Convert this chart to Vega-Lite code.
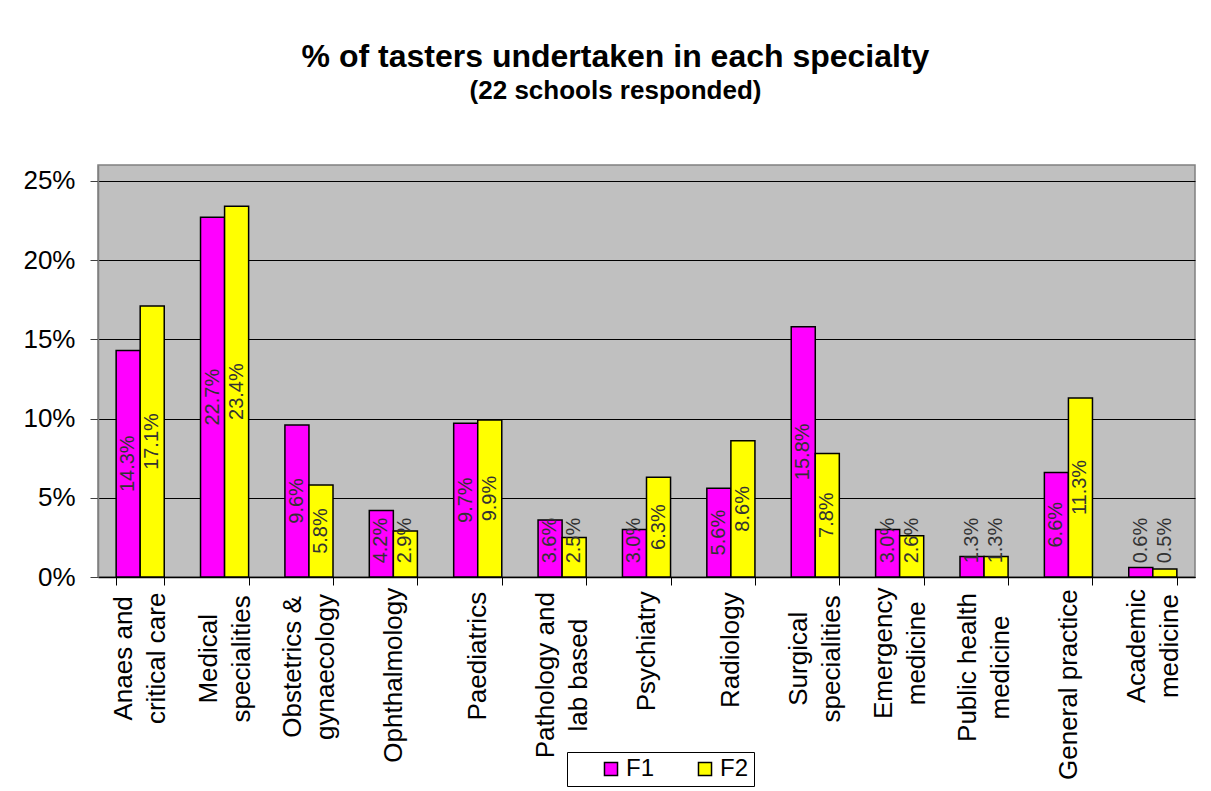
{
  "$schema": "https://vega.github.io/schema/vega-lite/v6.json",
  "width": 1097,
  "height": 412,
  "autosize": "none",
  "padding": {"left": 98, "top": 165, "right": 16, "bottom": 214},
  "background": "white",
  "config": {
    "font": "Liberation Sans",
    "view": {"fill": "#C0C0C0", "stroke": "#808080", "strokeWidth": 1.5}
  },
  "title": {
    "text": "% of tasters undertaken in each specialty",
    "subtitle": "(22 schools responded)",
    "font": "Liberation Sans",
    "fontSize": 32,
    "fontWeight": "bold",
    "color": "black",
    "subtitleFont": "Liberation Sans",
    "subtitleFontSize": 26,
    "subtitleFontWeight": "bold",
    "subtitleColor": "black",
    "subtitlePadding": 4,
    "anchor": "middle",
    "dx": -31,
    "offset": 60
  },
  "data": {
    "values": [
      {"specialty": "Anaes and|critical care", "series": "F1", "value": 0.143},
      {"specialty": "Anaes and|critical care", "series": "F2", "value": 0.171},
      {"specialty": "Medical|specialities", "series": "F1", "value": 0.227},
      {"specialty": "Medical|specialities", "series": "F2", "value": 0.234},
      {"specialty": "Obstetrics &|gynaecology", "series": "F1", "value": 0.096},
      {"specialty": "Obstetrics &|gynaecology", "series": "F2", "value": 0.058},
      {"specialty": "Ophthalmology", "series": "F1", "value": 0.042},
      {"specialty": "Ophthalmology", "series": "F2", "value": 0.029},
      {"specialty": "Paediatrics", "series": "F1", "value": 0.097},
      {"specialty": "Paediatrics", "series": "F2", "value": 0.099},
      {"specialty": "Pathology and|lab based", "series": "F1", "value": 0.036},
      {"specialty": "Pathology and|lab based", "series": "F2", "value": 0.025},
      {"specialty": "Psychiatry", "series": "F1", "value": 0.030},
      {"specialty": "Psychiatry", "series": "F2", "value": 0.063},
      {"specialty": "Radiology", "series": "F1", "value": 0.056},
      {"specialty": "Radiology", "series": "F2", "value": 0.086},
      {"specialty": "Surgical|specialities", "series": "F1", "value": 0.158},
      {"specialty": "Surgical|specialities", "series": "F2", "value": 0.078},
      {"specialty": "Emergency|medicine", "series": "F1", "value": 0.030},
      {"specialty": "Emergency|medicine", "series": "F2", "value": 0.026},
      {"specialty": "Public health|medicine", "series": "F1", "value": 0.013},
      {"specialty": "Public health|medicine", "series": "F2", "value": 0.013},
      {"specialty": "General practice", "series": "F1", "value": 0.066},
      {"specialty": "General practice", "series": "F2", "value": 0.113},
      {"specialty": "Academic|medicine", "series": "F1", "value": 0.006},
      {"specialty": "Academic|medicine", "series": "F2", "value": 0.005}
    ]
  },
  "encoding": {
    "x": {
      "field": "specialty",
      "type": "nominal",
      "sort": null,
      "title": null,
      "scale": {"paddingInner": 0.43, "paddingOuter": 0.215},
      "axis": {
        "labelExpr": "split(datum.label, '|')",
        "labelAngle": 270,
        "labelAlign": "center",
        "labelBaseline": "middle",
        "labelFontSize": 26,
        "labelLineHeight": 33,
        "labelColor": "black",
        "labelPadding": 8,
        "labelLimit": 400,
        "labelOverlap": false,
        "labelBound": false,
        "tickBand": "extent",
        "tickSize": 8,
        "tickColor": "black",
        "domainColor": "black",
        "domainWidth": 1.5,
        "grid": false,
        "encoding": {
          "labels": {
            "dx": {"value": {"expr": "-13*max(0.556*length(split(datum.label,'|')[0]) - 0.296*length(replace(split(datum.label,'|')[0], regexp('[^ijltfr ]','g'), '')) - 0.056*length(replace(split(datum.label,'|')[0], regexp('[^csykvxz]','g'), '')), 0.556*length(split(datum.label,'|')[1] || '') - 0.296*length(replace(split(datum.label,'|')[1] || '', regexp('[^ijltfr ]','g'), '')) - 0.056*length(replace(split(datum.label,'|')[1] || '', regexp('[^csykvxz]','g'), '')))"}},
            "dy": {"value": {"expr": "-16.5*(length(split(datum.label,'|')) - 1)"}}
          }
        }
      }
    },
    "xOffset": {"field": "series", "type": "nominal", "sort": ["F1", "F2"]}
  },
  "layer": [
    {
      "mark": {"type": "bar", "stroke": "black", "strokeWidth": 1.5},
      "encoding": {
        "y": {
          "field": "value",
          "type": "quantitative",
          "title": null,
          "scale": {"domain": [0, 0.25]},
          "axis": {
            "values": [0, 0.05, 0.1, 0.15, 0.2, 0.25],
            "format": ".0%",
            "labelFontSize": 26,
            "labelColor": "black",
            "labelPadding": 15,
            "tickSize": 8,
            "tickColor": "#404040",
            "domainColor": "#808080",
            "domainWidth": 1.5,
            "gridColor": "black",
            "gridWidth": 1
          }
        },
        "color": {
          "field": "series",
          "type": "nominal",
          "scale": {"domain": ["F1", "F2"], "range": ["#FF00FF", "#FFFF00"]},
          "legend": {
            "title": null,
            "orient": "none",
            "legendX": 469,
            "legendY": 587,
            "direction": "horizontal",
            "symbolType": "square",
            "symbolSize": 170,
            "symbolStrokeColor": "black",
            "symbolStrokeWidth": 1.5,
            "symbolOffset": 27,
            "labelFontSize": 24,
            "labelColor": "black",
            "labelOffset": 3,
            "columnPadding": 11,
            "padding": 5,
            "strokeColor": "black",
            "fillColor": "white"
          }
        }
      }
    },
    {
      "transform": [{"calculate": "max(datum.value / 2, 0.023)", "as": "labelPos"}],
      "mark": {"type": "text", "angle": 270, "fontSize": 20, "color": "#333333", "align": "center", "baseline": "middle"},
      "encoding": {
        "y": {"field": "labelPos", "type": "quantitative"},
        "text": {"field": "value", "type": "quantitative", "format": ".1%"}
      }
    }
  ]
}
